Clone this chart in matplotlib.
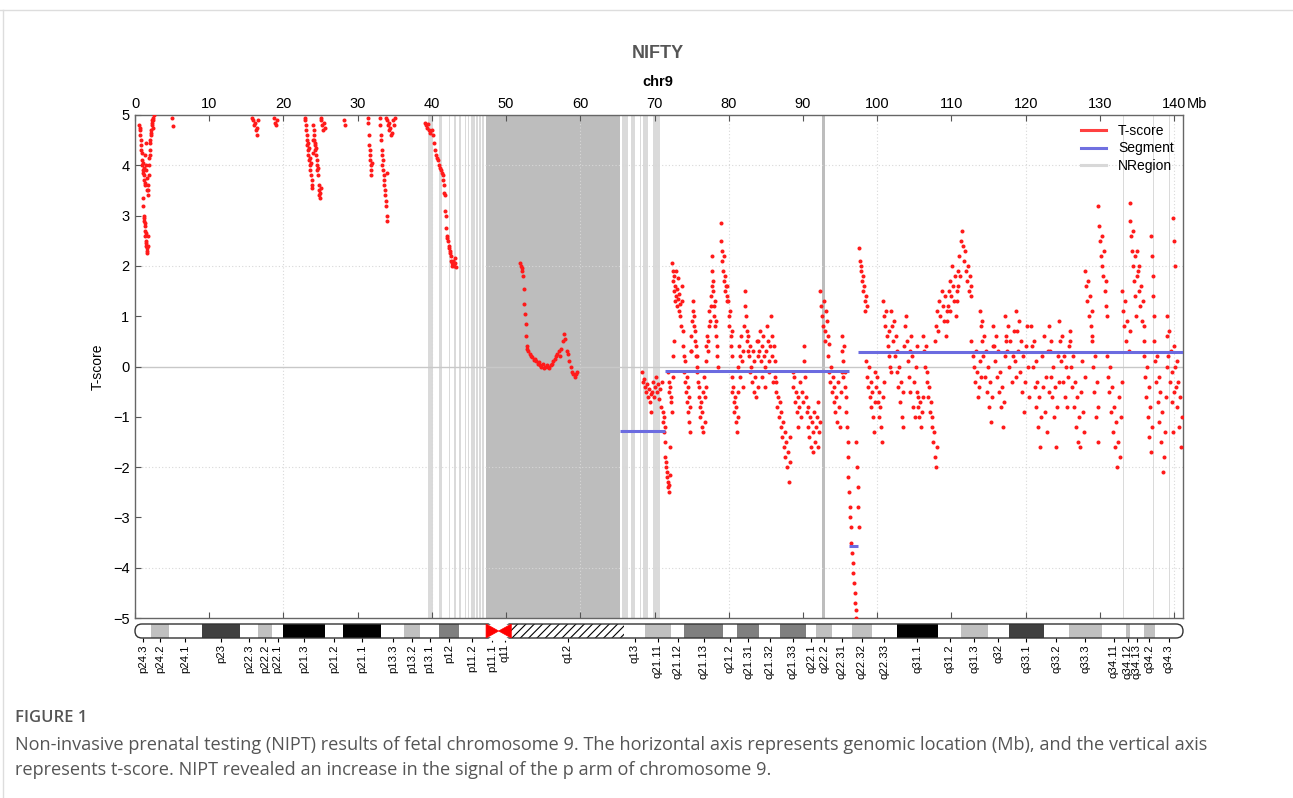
import numpy as np
import matplotlib.pyplot as plt
from matplotlib.patches import FancyBboxPatch, Polygon, Rectangle
from matplotlib.lines import Line2D

plt.rcParams['font.family'] = ['Liberation Sans', 'DejaVu Sans']
plt.rcParams['hatch.linewidth'] = 0.8

CHR_LEN = 141.2  # Mb, chr9

# bandas citogeneticas do chr9
band_names = ['p24.3', 'p24.2', 'p24.1', 'p23', 'p22.3', 'p22.2', 'p22.1', 'p21.3', 'p21.2',
              'p21.1', 'p13.3', 'p13.2', 'p13.1', 'p12', 'p11.2', 'p11.1', 'q11', 'q12',
              'q13', 'q21.11', 'q21.12', 'q21.13', 'q21.2', 'q21.31', 'q21.32', 'q21.33',
              'q22.1', 'q22.2', 'q22.31', 'q22.32', 'q22.33', 'q31.1', 'q31.2', 'q31.3',
              'q32', 'q33.1', 'q33.2', 'q33.3', 'q34.11', 'q34.12', 'q34.13', 'q34.2', 'q34.3']
band_starts = [0.0, 2.2, 4.6, 9.0, 14.2, 16.6, 18.5, 19.9, 25.6, 28.0, 33.2, 36.3, 38.4,
               41.0, 43.6, 47.3, 49.0, 50.7, 65.9, 68.7, 72.2, 74.0, 79.2, 81.1, 84.1, 86.9,
               90.4, 91.8, 93.9, 96.6, 99.3, 102.6, 108.2, 111.3, 114.9, 117.7, 122.5, 125.8,
               130.3, 133.5, 134.0, 135.9, 137.4]
band_stains = ['gneg', 'gpos25', 'gneg', 'gpos75', 'gneg', 'gpos25', 'gneg', 'gpos100', 'gneg',
               'gpos100', 'gneg', 'gpos25', 'gneg', 'gpos50', 'gneg', 'acen', 'acen', 'gvar',
               'gneg', 'gpos25', 'gneg', 'gpos50', 'gneg', 'gpos50', 'gneg', 'gpos50',
               'gneg', 'gpos25', 'gneg', 'gpos25', 'gneg', 'gpos100', 'gneg', 'gpos25',
               'gneg', 'gpos75', 'gneg', 'gpos25', 'gneg', 'gpos25', 'gneg', 'gpos25', 'gneg']

# regioes N (gaps)
nregion_starts = [39.5, 40.9, 42.3, 43.0, 43.7, 44.4, 44.8, 45.3, 45.6, 46.0, 46.4, 46.8,
                  65.6, 66.8, 68.0, 68.5, 69.8, 133.15, 137.1, 139.3]
nregion_ends = [40.2, 41.4, 42.5, 43.2, 43.9, 44.6, 45.0, 45.5, 45.8, 46.2, 46.6, 47.0,
                66.4, 67.4, 68.2, 69.1, 70.8, 133.3, 137.25, 139.45]
dense_nregion_starts = [47.3, 92.55]
dense_nregion_ends = [65.4, 92.95]

# segmentos
seg_starts = [65.4, 71.4, 96.2, 97.4]
seg_ends = [71.4, 96.2, 97.4, 141.2]
seg_values = [-1.29, -0.08, -3.57, 0.28]

# T-score: (inicio Mb, fim Mb, valores dos bins)
p_arm_chunks = [
    (0.6, 1.6, [4.8, 4.7, 4.6, 4.75, 4.4, 4.5, 4.3, 4.1, 4.25, 4.0, 3.9, 4.05, 3.85, 3.95,
                3.7, 3.8, 3.6, 3.65, 4.2, 4.45, 3.9, 4.0, 3.75, 3.5]),
    (1.1, 1.8, [3.35, 3.2, 3.0, 2.95, 2.9, 2.8, 2.85, 2.7, 2.6, 2.65, 2.5, 2.4, 2.45, 2.35,
                2.3, 2.25, 2.4, 2.6, 3.5, 3.4]),
    (1.8, 2.5, [3.6, 3.8, 4.0, 4.15, 4.3, 4.2, 4.45, 4.5, 4.6, 4.7, 4.65, 4.8, 4.9, 4.85,
                4.95, 4.75, 4.9, 5.0]),
    (5.0, 5.1, [4.95, 4.78]),
    (15.8, 16.6, [4.95, 4.9, 4.8, 4.85, 4.7, 4.75, 4.6, 4.9]),
    (18.7, 19.1, [4.95, 4.85, 4.8, 4.9]),
    (22.9, 24.0, [4.95, 4.9, 4.8, 4.7, 4.6, 4.5, 4.4, 4.45, 4.3, 4.2, 4.35, 4.1, 4.0, 4.15,
                  3.9, 3.8, 4.05, 3.7, 3.6, 3.55, 4.25, 4.5]),
    (24.0, 25.0, [4.8, 4.6, 4.7, 4.5, 4.4, 4.3, 4.45, 4.2, 4.35, 4.1, 4.0, 3.9, 3.8, 3.95,
                  3.6, 3.5, 3.4, 3.35, 3.45, 3.55]),
    (25.0, 25.6, [4.95, 4.9, 4.8, 4.7, 4.85, 4.75]),
    (28.2, 28.3, [4.9, 4.8]),
    (31.4, 31.9, [4.95, 4.85, 4.6, 4.4, 4.2, 4.3, 4.1, 4.0, 3.9, 3.8, 4.05]),
    (33.0, 34.0, [4.95, 4.8, 4.6, 4.5, 4.3, 4.2, 4.0, 3.9, 4.1, 3.8, 3.7, 3.6, 3.5, 3.4,
                  3.3, 3.2, 3.0, 2.9, 3.85]),
    (33.8, 35.0, [4.95, 4.9, 4.8, 4.85, 4.7, 4.75, 4.6, 4.65, 4.9, 4.8, 4.95]),
    (39.1, 39.8, [4.85, 4.8, 4.75, 4.82, 4.7, 4.65]),
    (40.0, 41.5, [4.7, 4.6, 4.45, 4.3, 4.2, 4.15, 4.1, 4.0, 3.95, 3.9, 3.85, 3.8]),
    (41.5, 43.2, [3.7, 3.6, 3.45, 3.4, 3.1, 3.0, 2.75, 2.6, 2.55, 2.5, 2.4, 2.35, 2.3, 2.25,
                  2.2, 2.1, 2.05, 2.0, 2.05, 2.1, 2.0, 2.15, 2.05, 1.98]),
]

centromere_chunks = [
    (51.9, 52.8, [2.05, 2.0, 1.95, 1.9, 1.8, 1.55, 1.25, 1.05, 0.85, 0.6, 0.4]),
    (52.8, 59.6, [0.35, 0.3, 0.25, 0.2, 0.18, 0.12, 0.15, 0.1, 0.05, 0.08, 0.02, 0.0, 0.05,
                  -0.02, 0.0, 0.03, 0.0, -0.03, 0.02, 0.05, 0.1, 0.15, 0.2, 0.25, 0.3, 0.2,
                  0.35, 0.5, 0.65, 0.55, 0.3, 0.25, 0.1, 0.0, -0.1, -0.15, -0.2, -0.15, -0.1]),
]

q_arm_chunks = [
    (68.3, 71.0, [-0.1, -0.3, -0.25, -0.4, -0.5, -0.35, -0.6, -0.45, -0.7, -0.55, -0.9, -0.5,
                  -0.3, -0.6, -0.4, -0.2, -0.5, -0.35, -0.65, -0.45, -0.8, -0.3]),
    (71.1, 72.1, [-0.9, -1.1, -1.3, -1.0, -1.5, -1.2, -1.8, -2.0, -1.9, -2.2, -2.1, -2.4,
                  -2.3, -2.5, -2.35, -2.15, -1.6]),
    (71.8, 72.6, [-0.1, -0.3, -0.5, -0.4, -0.7, -0.6, -0.9, -0.2, 0.2, 0.5]),
    (72.4, 73.7, [2.05, 1.9, 1.7, 1.8, 1.5, 1.6, 1.3, 1.4, 1.9, 1.2, 1.55, 1.35, 1.75, 1.1,
                  1.45, 1.25, 1.0, 0.8, 1.6, 1.3]),
    (73.8, 74.9, [0.7, 0.4, 0.2, -0.1, -0.3, 0.1, -0.5, -0.2, -0.7, -0.4, -0.9, -0.6, -1.1,
                  -1.3, -0.8, 0.3]),
    (74.9, 75.7, [0.3, 0.6, 0.9, 1.3, 1.1, 0.8, 1.0, 0.7, 0.5, 0.2, 0.4, 0.0]),
    (75.7, 76.9, [0.2, -0.1, -0.3, -0.6, -0.4, -0.8, -1.0, -0.7, -1.2, -0.9, -1.3, -0.5,
                  -0.2, -0.6, -1.1, -0.4]),
    (76.9, 77.7, [0.1, 0.4, 0.6, 0.3, 0.5, 0.8, 1.1, 0.9, 1.4, 1.2, 1.6]),
    (77.7, 78.5, [2.2, 1.9, 1.7, 1.5, 1.2, 1.0, 0.8, 1.3, 0.6, 0.9, 0.4, 0.2, 0.0]),
    (78.9, 79.8, [2.85, 2.5, 2.3, 2.1, 1.9, 2.2, 1.7, 1.8, 1.5, 1.6, 1.4, 1.3]),
    (79.8, 80.5, [1.6, 1.3, 1.0, 0.8, 1.1, 0.6, 0.4, 0.7, 0.2]),
    (80.4, 81.3, [-0.2, -0.5, -0.4, -0.7, -0.9, -0.6, -1.1, -0.8, -1.3, -1.0, -0.5]),
    (81.3, 82.6, [0.0, 0.4, 0.2, -0.2, 0.6, 0.1, -0.4, 0.3, 0.8, 1.2, 1.5, 1.0, 0.5, 0.7, 0.3]),
    (82.6, 84.0, [0.6, 0.2, 0.4, -0.1, 0.0, -0.3, 0.3, -0.5, 0.1, -0.2, -0.6, 0.5, 0.2, -0.4]),
    (84.0, 86.2, [0.5, 0.3, 0.7, 0.1, 0.4, -0.2, 0.6, 0.2, 0.0, -0.4, 0.3, 0.8, 0.5, 0.1,
                  -0.1, 0.4, 1.0, 0.6, 0.2, -0.3, 0.4, 0.1]),
    (86.2, 88.3, [-0.2, -0.5, -0.3, -0.8, -0.6, -1.0, -0.7, -1.2, -0.9, -1.4, -1.1, -1.6,
                  -1.3, -1.8, -1.5, -2.0, -1.7, -2.3, -1.9, -1.4]),
    (88.6, 90.3, [-0.1, -0.4, -0.2, -0.7, -0.5, -0.9, -0.6, -1.2, -0.8, -0.3, -1.0, -0.5,
                  -0.7, 0.1, 0.4, -0.2]),
    (90.4, 92.3, [-0.6, -0.9, -1.2, -0.8, -1.4, -1.0, -1.6, -1.1, -1.3, -1.7, -0.9, -1.5,
                  -1.2, -1.0, -1.6, -0.7, -1.3, -1.1]),
    (92.3, 93.5, [1.5, 1.2, 1.0, 0.8, 1.3, 0.7, 0.5, 1.1, 0.9, 0.6, 0.45]),
    (93.4, 95.2, [0.2, -0.1, -0.3, 0.0, -0.5, -0.2, -0.7, -0.4, -0.9, -0.6, -1.1, -0.3,
                  -0.8, -1.2, -0.5, -0.1]),
    (95.2, 96.1, [0.6, 0.3, 0.1, -0.2, 0.4, -0.4, -0.1, -0.6, -0.9, -1.2, -1.5, -1.8]),
    (96.1, 97.2, [-2.2, -2.5, -2.8, -3.0, -3.2, -3.5, -3.7, -3.9, -4.1, -4.3, -4.5, -4.7,
                  -4.85, -5.0]),
    (97.1, 97.6, [-1.5, -2.0, -2.4, -2.8, -3.2]),
    (97.6, 98.6, [2.35, 2.1, 1.9, 2.0, 1.7, 1.8, 1.5, 1.6, 1.3, 1.1, 1.4, 1.2]),
    (98.5, 99.7, [0.1, -0.2, -0.4, 0.0, -0.6, -0.3, -0.8, -0.5, -1.0, -1.3, -0.7]),
    (99.7, 100.9, [-0.1, -0.4, -0.2, -0.7, -0.5, -1.0, -0.8, -1.2, -1.5, -0.6, -0.3]),
    (100.8, 101.9, [1.3, 1.0, 0.8, 1.1, 0.6, 0.4, 0.7, 0.2, 0.0, -0.1]),
    (101.9, 105.3, [1.1, 0.8, 0.5, 0.9, 0.2, 0.6, -0.1, 0.3, -0.4, 0.0, -0.7, -0.3, -1.0,
                    -0.5, -1.2, 0.4, 0.8, 1.0, 0.5, 0.1, -0.2, 0.3, -0.5, 0.6, 0.2, -0.8,
                    -0.3, -1.0, 0.0, 0.4]),
    (105.3, 106.2, [-0.5, -0.8, -0.6, -1.0, -0.7, -1.2, -0.9, -0.6]),
    (106.2, 108.0, [0.6, 0.3, 0.0, 0.4, -0.3, -0.1, -0.6, -0.4, -0.9, -0.7, -1.2, -1.0,
                    -1.5, -1.3, -1.8, -2.0, -1.6]),
    (107.8, 109.4, [0.5, 0.8, 1.1, 0.7, 1.3, 1.0, 1.5, 1.2, 0.9, 1.4, 0.6, 1.1]),
    (109.4, 110.7, [0.9, 1.2, 1.5, 1.1, 1.7, 1.4, 2.0, 1.6, 1.3, 1.8, 1.0, 1.5]),
    (110.7, 112.7, [1.3, 1.6, 1.9, 2.2, 1.8, 2.5, 2.7, 2.4, 2.1, 2.3, 1.9, 1.7, 2.0, 1.5,
                    1.8, 1.4, 1.6]),
    (112.7, 114.0, [0.5, 0.2, 0.0, -0.3, 0.3, -0.1, -0.6, -0.4, 0.1, -0.2]),
    (113.8, 115.6, [1.1, 0.8, 0.5, 0.9, 0.2, 0.6, -0.2, 0.3, -0.5, 0.0, -0.8, -0.3, -1.1,
                    -0.6, 0.4]),
    (115.6, 117.4, [0.8, 0.4, 0.1, 0.6, -0.2, 0.3, -0.5, -0.1, -0.8, -0.4, -1.2, -0.7, 0.2, 0.5]),
    (117.2, 118.7, [1.0, 0.6, 0.3, 0.8, 0.0, 0.5, -0.3, 0.2, 0.7, 0.1, -0.2]),
    (118.7, 120.5, [1.1, 0.7, 0.3, 0.9, -0.1, 0.5, -0.5, 0.2, -0.9, -0.3, 0.4, 0.8, 0.0, -0.6]),
    (120.7, 123.1, [0.8, 0.4, 0.0, 0.5, -0.4, 0.1, -0.8, -0.3, -1.2, -0.6, -1.6, -1.0, 0.2,
                    -0.4, 0.6, -0.9, -0.2, -1.3, 0.3, -0.5]),
    (123.1, 124.5, [0.8, 0.3, -0.2, 0.5, -0.6, 0.0, -1.0, -0.4, -1.6, -0.8, 0.2, -0.3]),
    (124.5, 126.0, [0.9, 0.5, 0.1, 0.6, -0.3, 0.2, -0.6, 0.0, -0.8, -0.2, 0.4, 0.7]),
    (126.0, 128.0, [0.5, 0.0, -0.4, 0.2, -0.8, -0.3, -1.2, -0.6, -1.5, -1.0, -1.6, -0.5, 0.1,
                    -0.9, -1.3, -0.2]),
    (128.0, 129.0, [1.9, 1.6, 1.3, 1.7, 1.0, 1.4, 0.8, 1.1, 0.6]),
    (129.0, 129.8, [0.5, 0.0, -0.5, 0.2, -1.0, -0.3, -1.5, -0.8]),
    (129.8, 131.0, [3.2, 2.8, 2.5, 2.2, 2.6, 2.0, 1.8, 2.3, 1.5, 1.2, 1.7, 1.0]),
    (131.0, 133.0, [0.2, -0.2, -0.5, 0.0, -0.9, -0.4, -1.3, -0.8, -1.6, -1.1, -2.0, -1.5,
                    -0.6, -1.8, -1.0, -0.3]),
    (133.0, 134.0, [1.5, 1.1, 0.8, 1.3, 0.5, 0.9, 0.3, 0.7]),
    (134.0, 135.0, [3.25, 2.9, 2.6, 2.3, 2.7, 2.0, 1.7, 2.2, 1.4, 1.0, 1.8]),
    (135.0, 136.0, [2.3, 1.9, 1.5, 2.0, 1.2, 1.6, 0.9, 1.3, 0.5, 0.8]),
    (136.0, 137.0, [0.2, -0.2, -0.6, 0.0, -1.0, -0.4, -1.4, -0.8, -1.7, -1.2]),
    (136.9, 137.3, [2.6, 2.2, 1.8, 1.4, 1.0]),
    (137.3, 139.0, [0.5, 0.1, -0.3, 0.2, -0.7, -0.2, -1.1, -0.5, -1.5, -0.9, -2.1, -1.8,
                    -1.3, -0.6, 0.0]),
    (139.0, 140.0, [1.0, 0.6, 0.2, 0.7, -0.3, 0.3, -0.7, -0.1, -1.3, -0.5]),
    (139.9, 140.1, [2.95, 2.5, 2.0]),
    (140.0, 141.0, [0.4, 0.0, -0.4, 0.1, -0.8, -0.3, -1.2, -0.6, -1.6, -1.0]),
]

caption_title = 'FIGURE 1'
caption_lines = [
    'Non-invasive prenatal testing (NIPT) results of fetal chromosome 9. The horizontal axis '
    'represents genomic location (Mb), and the vertical axis',
    'represents t-score. NIPT revealed an increase in the signal of the p arm of chromosome 9.',
]

STAIN_COLORS = {'gneg': 'white', 'gpos25': '#c0c0c0', 'gpos50': '#7f7f7f',
                'gpos75': '#404040', 'gpos100': 'black'}


def expandir(chunks):
    # espalha os valores de cada bloco de forma uniforme entre inicio e fim
    xs, ys = [], []
    for ini, fim, vals in chunks:
        xs.extend(np.linspace(ini, fim, len(vals)))
        ys.extend(vals)
    return np.array(xs), np.array(ys)


W, H = 1293, 798


def caixa(l, t, r, b):
    return [l / W, 1 - b / H, (r - l) / W, (b - t) / H]


fig = plt.figure(figsize=(W / 100, H / 100), dpi=100)

# moldura do painel
fig.add_artist(Line2D([0, 1], [1 - 10 / H, 1 - 10 / H], color='#dddddd', lw=1))
fig.add_artist(Line2D([3 / W, 3 / W], [0, 1 - 10 / H], color='#dddddd', lw=1))

ax = fig.add_axes(caixa(135, 115, 1183, 618))
ax.set_xlim(0, CHR_LEN)
ax.set_ylim(-5, 5)

for s, e in zip(nregion_starts, nregion_ends):
    ax.axvspan(s, e, color='#dadada', lw=0, zorder=0)
for s, e in zip(dense_nregion_starts, dense_nregion_ends):
    ax.axvspan(s, e, color='#bdbdbd', lw=0, zorder=0)

for gx in range(20, 141, 20):
    ax.axvline(gx, color='#d8d8d8', lw=0.8, ls=(0, (1, 2)), zorder=0.5)
for gy in (-4, -2, 2, 4):
    ax.axhline(gy, color='#d8d8d8', lw=0.8, ls=(0, (1, 2)), zorder=0.5)
ax.axhline(0, color='#c8c8c8', lw=1.0, zorder=0.6)

for chunks in (p_arm_chunks, centromere_chunks, q_arm_chunks):
    x, y = expandir(chunks)
    ax.plot(x, y, 'o', ms=2.9, color='#ff1a1a', mec='none', zorder=3)

ax.hlines(seg_values, seg_starts, seg_ends, color='#6b6be0', lw=2.2, zorder=4)

handles = [Line2D([], [], color='#ff4040', lw=2.2),
           Line2D([], [], color='#7070e0', lw=2.2),
           Line2D([], [], color='#d8d8d8', lw=2.2)]
ax.legend(handles, ['T-score', 'Segment', 'NRegion'], loc='upper right', frameon=False,
          fontsize=10, handlelength=1.8, handletextpad=0.9, labelspacing=0.25,
          borderaxespad=0.35, borderpad=0.3)

ax.set_xticks(range(0, 141, 10))
ax.tick_params(axis='x', which='both', direction='in', top=True, bottom=True,
               labeltop=True, labelbottom=False, length=4, pad=3, labelsize=10.5,
               color='#555555')
ax.set_yticks(range(-5, 6))
ax.tick_params(axis='y', direction='in', length=4, pad=4, labelsize=10.5, color='#555555')
for sp in ax.spines.values():
    sp.set_color('#666666')
    sp.set_linewidth(1.0)
ax.set_ylabel('T-score', fontsize=10, labelpad=6)
ax.annotate('Mb', xy=(CHR_LEN, 1.0), xycoords=('data', 'axes fraction'),
            xytext=(3, 3), textcoords='offset points', ha='left', va='bottom', fontsize=10.5)

fig.text(658 / W, 1 - 53 / H, 'NIFTY', ha='center', va='center', fontsize=13,
         weight='bold', color='#555555')
fig.text(658 / W, 1 - 82 / H, 'chr9', ha='center', va='center', fontsize=10.5, weight='bold')

# ideograma
ax2 = fig.add_axes(caixa(135, 624, 1183, 638))
ax2.set_xlim(0, CHR_LEN)
ax2.set_ylim(0, 1)
for sp in ax2.spines.values():
    sp.set_visible(False)
ax2.set_yticks([])

px_w = 1183 - 135
px_h = 638 - 624
raio_x = (px_h / 2) * CHR_LEN / px_w
aspecto = (1 / px_h) / (CHR_LEN / px_w)
contorno = FancyBboxPatch((0, 0), CHR_LEN, 1, boxstyle=f'round,pad=0,rounding_size={raio_x}',
                          mutation_aspect=aspecto, fc='none', ec='#333333', lw=1.0,
                          zorder=3, clip_on=False)
ax2.add_patch(contorno)

band_ends = band_starts[1:] + [CHR_LEN]
centros = []
for nome, s, e, stain in zip(band_names, band_starts, band_ends, band_stains):
    centros.append((s + e) / 2)
    if stain == 'acen':
        continue
    if stain == 'gvar':
        r = Rectangle((s, 0), e - s, 1, fc='white', ec='black', lw=0, hatch='////', zorder=1)
    else:
        r = Rectangle((s, 0), e - s, 1, fc=STAIN_COLORS[stain], ec='none', zorder=1)
    ax2.add_patch(r)
    r.set_clip_path(contorno)

p11 = band_starts[band_names.index('p11.1')]
cen = band_starts[band_names.index('q11')]
q12 = band_starts[band_names.index('q12')]
for pts in ([(p11, 1.2), (cen, 0.5), (q12, 1.2)], [(p11, -0.2), (cen, 0.5), (q12, -0.2)]):
    ax2.add_patch(Polygon(pts, closed=True, fc='white', ec='none', zorder=4, clip_on=False))
ax2.add_patch(Polygon([(p11, 0), (p11, 1), (cen, 0.5)], closed=True, fc='#ff0000',
                      ec='#ff0000', lw=0.5, zorder=5))
ax2.add_patch(Polygon([(q12, 0), (q12, 1), (cen, 0.5)], closed=True, fc='#ff0000',
                      ec='#ff0000', lw=0.5, zorder=5))

ax2.set_xticks(centros)
ax2.set_xticklabels(band_names, rotation=90, fontsize=8.2)
ax2.tick_params(axis='x', direction='out', length=3, pad=1.5, width=0.8)

# legenda da figura
fig.text(15 / W, 1 - 718 / H, caption_title, fontsize=12, color='#555555',
         family=['Open Sans', 'DejaVu Sans'], weight='semibold', va='center')
for i, linha in enumerate(caption_lines):
    fig.text(15 / W, 1 - (745 + 25 * i) / H, linha, fontsize=13.1, color='#555555',
             family=['Open Sans', 'DejaVu Sans'], va='center')

fig.savefig('out.png', dpi=100)
